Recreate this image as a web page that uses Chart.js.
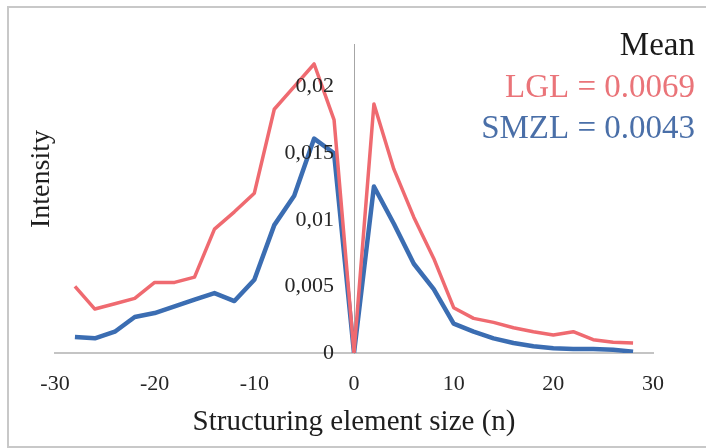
<!DOCTYPE html>
<html>
<head>
<meta charset="utf-8">
<script src="https://cdn.jsdelivr.net/npm/chart.js@4"></script>
<style>
  html, body { margin: 0; padding: 0; background: #fff; }
  canvas { display: block; }
</style>
</head>
<body>
<canvas id="chart" width="706" height="448"></canvas>
<script>
// Structuring element sizes (n), even steps from -28 to 28
const sizes = [-28, -26, -24, -22, -20, -18, -16, -14, -12, -10, -8, -6, -4, -2, 0,
               2, 4, 6, 8, 10, 12, 14, 16, 18, 20, 22, 24, 26, 28];

// Mean intensity per size, LGL
const lglValues = [0.0050, 0.0033, 0.0037, 0.0041, 0.0053, 0.0053, 0.0057, 0.0093, 0.0106, 0.0120,
                   0.0183, 0.0200, 0.0217, 0.0175, 0,
                   0.0187, 0.0138, 0.0102, 0.0071, 0.0034, 0.0026, 0.0023, 0.0019, 0.0016, 0.00135,
                   0.0016, 0.0010, 0.0008, 0.00075];

// Mean intensity per size, SMZL
const smzlValues = [0.0012, 0.0011, 0.0016, 0.0027, 0.0030, 0.0035, 0.0040, 0.0045, 0.0039, 0.0055,
                    0.0096, 0.0118, 0.0161, 0.0150, 0,
                    0.0125, 0.0097, 0.0067, 0.0048, 0.0022, 0.0016, 0.0011, 0.00075, 0.0005, 0.00035,
                    0.0003, 0.0003, 0.00025, 0.0001];

const xTickValues = [-30, -20, -10, 0, 10, 20, 30];
const yTickValues = [0, 0.005, 0.01, 0.015, 0.02];
const yTickLabels = ['0', '0,005', '0,01', '0,015', '0,02'];

const seriesNames = ['LGL', 'SMZL'];
const meanHeading = 'Mean';
const meanLabels = ['LGL = 0.0069', 'SMZL = 0.0043'];
const xTitle = 'Structuring element size (n)';
const yTitle = 'Intensity';

const SERIF = '"Liberation Serif", "Times New Roman", serif';
const RED = '#ef6a70';
const BLUE = '#3b6db2';

const toPoints = vals => sizes.map((n, i) => ({ x: n, y: vals[i] }));

// Frame, rotated/axis titles, y tick labels and the "Mean" annotation
const decor = {
  id: 'decor',
  beforeDraw(chart) {
    const ctx = chart.ctx;
    ctx.save();
    ctx.fillStyle = '#ffffff';
    ctx.fillRect(0, 0, chart.width, chart.height);
    ctx.strokeStyle = '#c8c8c8';
    ctx.lineWidth = 2;
    ctx.beginPath();
    ctx.moveTo(chart.width + 5, 7);
    ctx.lineTo(8, 7);
    ctx.lineTo(8, 447);
    ctx.lineTo(chart.width + 5, 447);
    ctx.stroke();
    ctx.restore();
  },
  afterDatasetsDraw(chart) {
    const ctx = chart.ctx;
    const xs = chart.scales.x, ys = chart.scales.y;
    const xr = xs.getPixelForValue(0) - 20;
    ctx.save();
    ctx.font = '22px ' + SERIF;
    ctx.fillStyle = '#262626';
    ctx.textAlign = 'right';
    ctx.textBaseline = 'middle';
    yTickValues.forEach((v, i) => {
      ctx.fillText(yTickLabels[i], xr, ys.getPixelForValue(v));
    });
    ctx.restore();
  },
  afterDraw(chart) {
    const ctx = chart.ctx;
    ctx.save();
    // x-axis title
    ctx.font = '29px ' + SERIF;
    ctx.fillStyle = '#1e1e1e';
    ctx.textAlign = 'center';
    ctx.textBaseline = 'alphabetic';
    ctx.fillText(xTitle, chart.scales.x.getPixelForValue(0), 430);
    // y-axis title
    ctx.save();
    ctx.translate(49, 179);
    ctx.rotate(-Math.PI / 2);
    ctx.font = '28px ' + SERIF;
    ctx.fillText(yTitle, 0, 0);
    ctx.restore();
    // mean values
    ctx.textAlign = 'right';
    ctx.font = '33px ' + SERIF;
    ctx.fillStyle = '#1a1a1a';
    ctx.fillText(meanHeading, 695, 55);
    ctx.fillStyle = '#ea7479';
    ctx.fillText(meanLabels[0], 695, 97);
    ctx.fillStyle = '#4a6fa8';
    ctx.fillText(meanLabels[1], 695, 138);
    ctx.restore();
  }
};

new Chart(document.getElementById('chart'), {
  type: 'line',
  data: {
    datasets: [
      {
        label: seriesNames[0],
        data: toPoints(lglValues),
        borderColor: RED,
        borderWidth: 3.5,
        pointRadius: 0,
        tension: 0,
        borderJoinStyle: 'round',
        order: 0
      },
      {
        label: seriesNames[1],
        data: toPoints(smzlValues),
        borderColor: BLUE,
        borderWidth: 4.5,
        pointRadius: 0,
        tension: 0,
        borderJoinStyle: 'round',
        order: 1
      }
    ]
  },
  options: {
    responsive: false,
    animation: false,
    devicePixelRatio: 1,
    layout: { padding: { left: 55, right: 53, top: 44, bottom: 95 } },
    plugins: { legend: { display: false }, tooltip: { enabled: false } },
    scales: {
      x: {
        type: 'linear',
        position: { y: 0 },
        min: -30,
        max: 30,
        afterBuildTicks: scale => { scale.ticks = xTickValues.map(v => ({ value: v })); },
        grid: { display: true, color: 'rgba(0,0,0,0)', drawTicks: false },
        border: { display: true, color: '#c4c4c4', width: 2 },
        ticks: {
          padding: 18,
          maxRotation: 0,
          color: '#262626',
          font: { family: SERIF, size: 22 },
          callback: v => String(v)
        }
      },
      y: {
        type: 'linear',
        position: { x: 0 },
        min: 0,
        max: 0.0232,
        afterBuildTicks: scale => { scale.ticks = yTickValues.map(v => ({ value: v })); },
        grid: { display: true, color: 'rgba(0,0,0,0)', drawTicks: false },
        border: { display: true, color: '#a6a6a6', width: 1 },
        ticks: { display: false }
      }
    }
  },
  plugins: [decor]
});
</script>
</body>
</html>
